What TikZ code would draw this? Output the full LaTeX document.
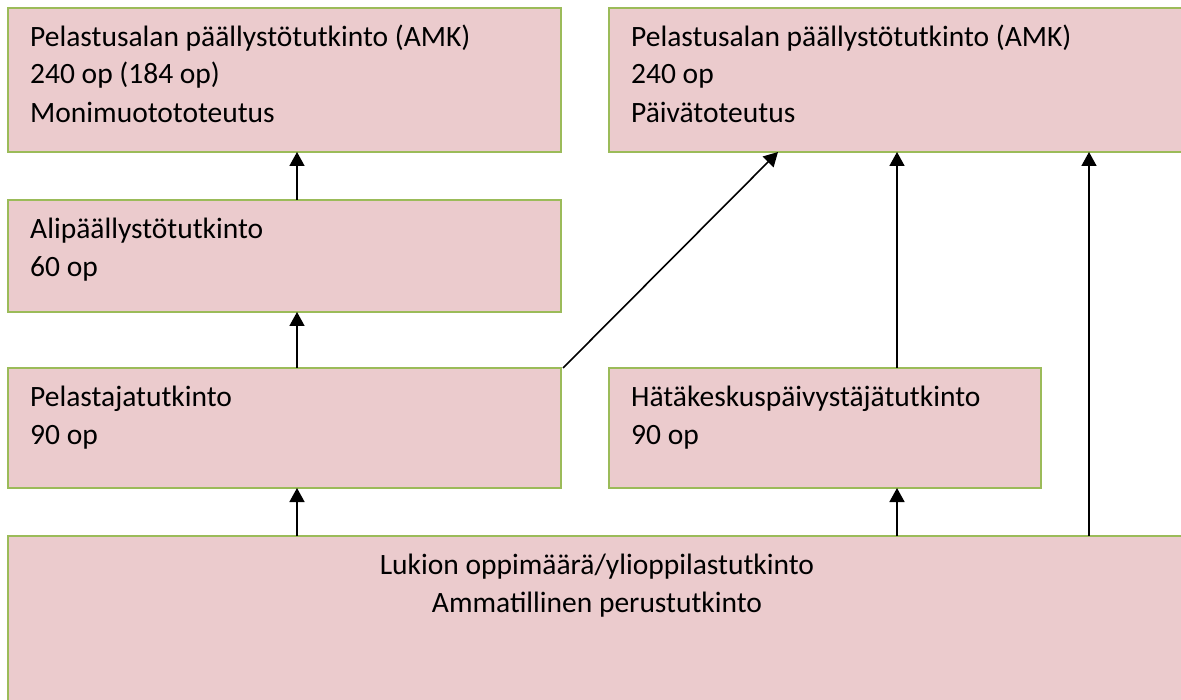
\documentclass[tikz,border=0pt]{standalone}
\usepackage{fontspec}
\setmainfont{Carlito}
\usetikzlibrary{arrows.meta,calc}
\definecolor{boxfill}{HTML}{EBCBCD}
\definecolor{boxline}{HTML}{9BBB59}
\tikzset{
  box/.style={rectangle, fill=boxfill, draw=boxline, line width=1.3pt, anchor=north west, inner sep=0pt, outer sep=0pt},
  txt/.style={anchor=base west, inner sep=0pt, font=\fontsize{29.5}{36}\selectfont, text=black},
  ctxt/.style={anchor=base, inner sep=0pt, font=\fontsize{29.5}{36}\selectfont, text=black},
  arr/.style={line width=1.6pt, -{Triangle[length=14pt,width=15pt]}}
}
\begin{document}
\begin{tikzpicture}[x=1pt,y=-1pt]
\useasboundingbox (0,0) rectangle (1181,700);
\clip (0,0) rectangle (1181,700);
% boxes
\node[box, minimum width=553pt, minimum height=144pt] (A) at (8,8) {};
\node[box, minimum width=620pt, minimum height=144pt] (B) at (609,8) {};
\node[box, minimum width=553pt, minimum height=112pt] (C) at (8,200) {};
\node[box, minimum width=553pt, minimum height=120pt] (D) at (8,368) {};
\node[box, minimum width=432pt, minimum height=120pt] (E) at (609,368) {};
\node[box, minimum width=1200pt, minimum height=220pt] (F) at (8,536) {};
% texts
\node[txt] (a1) at ($(A.north west)+(22,38.3)$) {Pelastusalan päällystötutkinto (AMK)};
\node[txt] (a2) at ($(a1.base west)+(0,37.3)$) {240 op (184 op)};
\node[txt] (a3) at ($(a2.base west)+(0,39)$) {Monimuotototeutus};
\node[txt] (b1) at ($(B.north west)+(22,38.3)$) {Pelastusalan päällystötutkinto (AMK)};
\node[txt] (b2) at ($(b1.base west)+(0,37.3)$) {240 op};
\node[txt] (b3) at ($(b2.base west)+(0,39)$) {Päivätoteutus};
\node[txt] (c1) at ($(C.north west)+(22,38.3)$) {Alipäällystötutkinto};
\node[txt] (c2) at ($(c1.base west)+(0,38.5)$) {60 op};
\node[txt] (d1) at ($(D.north west)+(22,38.3)$) {Pelastajatutkinto};
\node[txt] (d2) at ($(d1.base west)+(0,38.5)$) {90 op};
\node[txt] (e1) at ($(E.north west)+(22,38.3)$) {Hätäkeskuspäivystäjätutkinto};
\node[txt] (e2) at ($(e1.base west)+(0,38.5)$) {90 op};
\node[ctxt] (f1) at ($(F.north west)+(589,38.3)$) {Lukion oppimäärä/ylioppilastutkinto};
\node[ctxt] (f2) at ($(f1.base)+(0,38.5)$) {Ammatillinen perustutkinto};
% connector x positions
\coordinate (xl) at (297,0);
\coordinate (xm) at (897,0);
\coordinate (xr) at (1089,0);
\coordinate (xd) at (778,0);
% connectors
\draw[arr] (C.north -| xl) -- (A.south -| xl);
\draw[arr] (D.north -| xl) -- (C.south -| xl);
\draw[arr] (F.north -| xl) -- (D.south -| xl);
\draw[arr] ($(D.north east)+(2,0)$) -- (B.south -| xd);
\draw[arr] (E.north -| xm) -- (B.south -| xm);
\draw[arr] (F.north -| xm) -- (E.south -| xm);
\draw[arr] (F.north -| xr) -- (B.south -| xr);
\end{tikzpicture}
\end{document}
